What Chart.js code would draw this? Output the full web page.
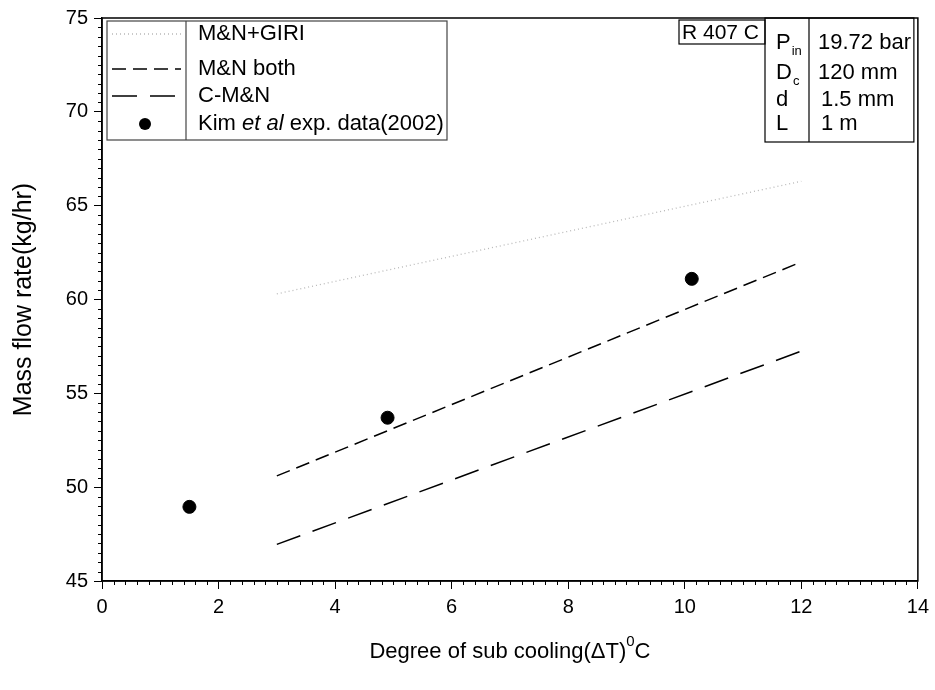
<!DOCTYPE html>
<html>
<head>
<meta charset="utf-8">
<script src="https://cdn.jsdelivr.net/npm/chart.js@4/dist/chart.umd.min.js"></script>
<style>
  html, body { margin: 0; padding: 0; background: #fff; }
</style>
</head>
<body>
<canvas id="myChart" width="935" height="690"></canvas>
<script>
const ctx = document.getElementById('myChart').getContext('2d')

// model curves (x = degree of sub cooling)
const lineX = [3, 12]
const giri = [60.3, 66.3]
const mnBoth = [50.6, 62.0]
const cmn = [46.95, 57.25]

// Kim et al experimental points
const expX = [1.5, 4.9, 10.12]
const expY = [48.95, 53.7, 61.1]

const xTicks = [0, 2, 4, 6, 8, 10, 12, 14]
const yTicks = [45, 50, 55, 60, 65, 70, 75]

const legendLabels = ['M&N+GIRI', 'M&N both', 'C-M&N', 'Kim et al exp. data(2002)']
const infoNames = ['P', 'D', 'd', 'L']
const infoSubs = ['in', 'c', '', '']
const infoValues = ['19.72 bar', '120 mm', '1.5 mm', '1 m']

const FONT = "'Liberation Sans', Arial, sans-serif"

const toPoints = (xs, ys) => xs.map((x, i) => ({ x, y: ys[i] }))

const data = {
  datasets: [{
    label: legendLabels[0],
    data: toPoints(lineX, giri),
    showLine: true,
    borderColor: '#b8b8b8',
    borderWidth: 1.3,
    borderDash: [1, 3],
    pointRadius: 0
  }, {
    label: legendLabels[1],
    data: toPoints(lineX, mnBoth),
    showLine: true,
    borderColor: '#000',
    borderWidth: 1.5,
    borderDash: [14, 7],
    pointRadius: 0
  }, {
    label: legendLabels[2],
    data: toPoints(lineX, cmn),
    showLine: true,
    borderColor: '#000',
    borderWidth: 1.5,
    borderDash: [25, 13],
    pointRadius: 0
  }, {
    label: legendLabels[3],
    data: toPoints(expX, expY),
    showLine: false,
    backgroundColor: '#000',
    borderColor: '#000',
    pointRadius: 6.5,
    pointHoverRadius: 6.5
  }]
}

function line(c, x1, y1, x2, y2) {
  c.beginPath()
  c.moveTo(x1, y1)
  c.lineTo(x2, y2)
  c.stroke()
}

// frame, minor ticks, legend, parameter box and axis titles
const decor = {
  id: 'decor',
  afterDraw(chart) {
    const c = chart.ctx
    const a = chart.chartArea
    const xs = chart.scales.x
    const ys = chart.scales.y
    c.save()
    c.strokeStyle = '#000'
    c.fillStyle = '#000'
    c.lineWidth = 1.5
    c.setLineDash([])
    c.strokeRect(a.left, a.top, a.right - a.left, a.bottom - a.top)

    c.lineWidth = 1
    for (let i = 0; i <= 70; i++) {
      if (i % 10 === 0) continue
      const px = Math.round(xs.getPixelForValue(i * 0.2)) + 0.5
      line(c, px, a.bottom, px, a.bottom + 4)
    }
    for (let i = 0; i <= 60; i++) {
      if (i % 10 === 0) continue
      const py = Math.round(ys.getPixelForValue(45 + i * 0.5)) + 0.5
      line(c, a.left - 4, py, a.left, py)
    }

    // legend box
    const lx = a.left + 5, ly = a.top + 3, lw = 340, lh = 119, lsplit = 79
    c.lineWidth = 1.2
    c.strokeStyle = '#444'
    c.strokeRect(lx, ly, lw, lh)
    line(c, lx + lsplit, ly, lx + lsplit, ly + lh)
    const rows = [34, 69, 96, 124]
    const ds = chart.data.datasets
    for (let i = 0; i < 3; i++) {
      c.strokeStyle = ds[i].borderColor
      c.lineWidth = ds[i].borderWidth
      c.setLineDash(ds[i].borderDash)
      line(c, lx + 5, rows[i], lx + lsplit - 5, rows[i])
    }
    c.setLineDash([])
    c.beginPath()
    c.arc(lx + 38, rows[3], 6, 0, Math.PI * 2)
    c.fill()

    c.textBaseline = 'middle'
    c.textAlign = 'left'
    c.font = '22px ' + FONT
    const tx = lx + lsplit + 12
    for (let i = 0; i < 3; i++) c.fillText(legendLabels[i], tx, rows[i])
    let cx = tx
    c.fillText('Kim ', cx, rows[3]); cx += c.measureText('Kim ').width
    c.font = 'italic 22px ' + FONT
    c.fillText('et al', cx, rows[3]); cx += c.measureText('et al').width
    c.font = '22px ' + FONT
    c.fillText(' exp. data(2002)', cx, rows[3])

    // R 407 C label and parameter table
    c.strokeStyle = '#000'
    c.lineWidth = 1.2
    const bx = 765, bsplit = 809, bright = a.right - 4, bbottom = 142
    c.strokeRect(679, a.top + 2, bx - 679, 24)
    c.font = '21px ' + FONT
    c.fillText('R 407 C', 682, a.top + 15)
    c.strokeRect(bx, a.top, bright - bx, bbottom - a.top)
    line(c, bsplit, a.top, bsplit, bbottom)
    const irows = [43, 73, 100, 124]
    for (let i = 0; i < 4; i++) {
      c.font = '22px ' + FONT
      c.fillText(infoNames[i], 776, irows[i])
      const w = c.measureText(infoNames[i]).width
      if (infoSubs[i]) {
        c.font = '13px ' + FONT
        c.fillText(infoSubs[i], 776 + w + 1, irows[i] + 8)
      }
      c.font = '22px ' + FONT
      c.fillText(infoValues[i], 818 + (i > 1 ? 3 : 0), irows[i])
    }

    // axis titles
    c.font = '25px ' + FONT
    c.textAlign = 'center'
    c.save()
    c.translate(24, (a.top + a.bottom) / 2)
    c.rotate(-Math.PI / 2)
    c.fillText('Mass flow rate(kg/hr)', 0, 0)
    c.restore()

    const t1 = 'Degree of sub cooling(\u0394T)', t2 = '0', t3 = 'C'
    c.textAlign = 'left'
    c.font = '22px ' + FONT
    const w1 = c.measureText(t1).width, w3 = c.measureText(t3).width
    c.font = '15px ' + FONT
    const w2 = c.measureText(t2).width
    let sx = (a.left + a.right) / 2 - (w1 + w2 + w3) / 2
    const ty = 652
    c.font = '22px ' + FONT
    c.fillText(t1, sx, ty); sx += w1
    c.font = '15px ' + FONT
    c.fillText(t2, sx, ty - 10); sx += w2
    c.font = '22px ' + FONT
    c.fillText(t3, sx, ty)
    c.restore()
  }
}

const config = {
  type: 'scatter',
  data,
  options: {
    responsive: false,
    animation: false,
    devicePixelRatio: 1,
    layout: { padding: { left: 0, top: 15, right: 17, bottom: 0 } },
    plugins: { legend: { display: false }, tooltip: { enabled: false } },
    scales: {
      x: {
        type: 'linear',
        min: 0,
        max: 14,
        afterFit: scale => { scale.height = 109 },
        afterBuildTicks: scale => { scale.ticks = xTicks.map(v => ({ value: v })) },
        ticks: { color: '#000', font: { family: FONT, size: 20 }, padding: 6, maxRotation: 0 },
        grid: { drawOnChartArea: false, tickLength: 8, tickColor: '#000', tickWidth: 1 },
        border: { color: '#000', width: 1.5 }
      },
      y: {
        min: 45,
        max: 75,
        afterFit: scale => { scale.width = 102 },
        afterBuildTicks: scale => { scale.ticks = yTicks.map(v => ({ value: v })) },
        ticks: { color: '#000', font: { family: FONT, size: 20 }, padding: 6 },
        grid: { drawOnChartArea: false, tickLength: 8, tickColor: '#000', tickWidth: 1 },
        border: { color: '#000', width: 1.5 }
      }
    }
  },
  plugins: [decor]
}

const myChart = new Chart(ctx, config)
</script>
</body>
</html>
